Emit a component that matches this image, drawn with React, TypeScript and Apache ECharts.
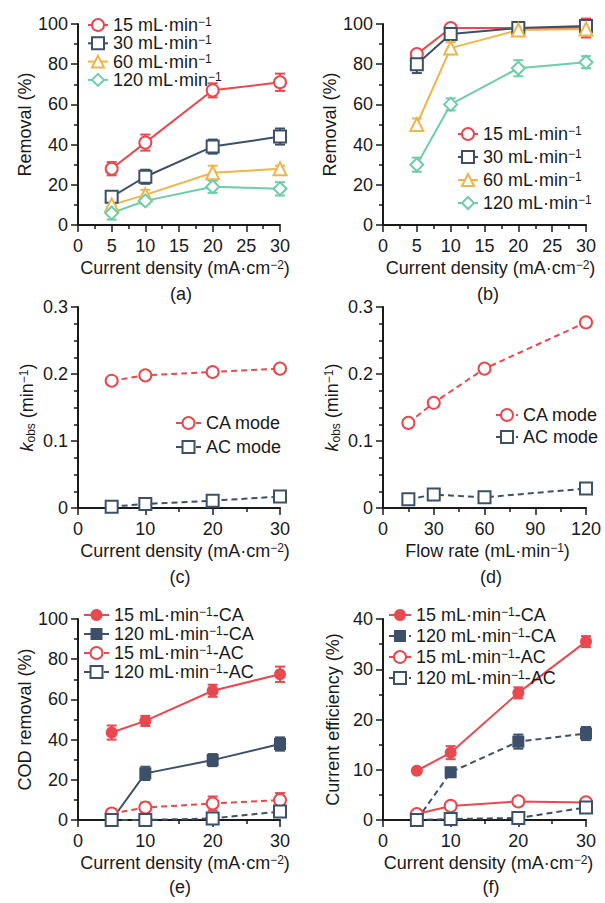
import React, { useEffect, useRef } from 'react';
import * as echarts from 'echarts';

// ---------- data ----------
const currentDensity = [5, 10, 20, 30];
const flowRates = [15, 30, 60, 120];

// (a) removal vs current density (first condition)
const aRem15 = [28, 41, 67, 71];
const aErr15 = [3.3, 4, 3.5, 4.3];
const aRem30 = [14, 24, 39, 44];
const aErr30 = [2.5, 3.5, 3.5, 4];
const aRem60 = [10, 15, 26, 28];
const aErr60 = [2, 2.5, 3.5, 1.5];
const aRem120 = [6, 12, 19, 18];
const aErr120 = [3.3, 1.5, 3, 3.3];

// (b) removal vs current density (second condition)
const bRem15 = [85, 98, 98, 98];
const bErr15 = [1.5, 1.5, 1, 4.7];
const bRem30 = [80, 95, 98, 99];
const bErr30 = [4.4, 3, 1.5, 1.5];
const bRem60 = [50, 88, 97, 97.5];
const bErr60 = [3, 3, 2.5, 3];
const bRem120 = [30, 60, 78, 81];
const bErr120 = [3.5, 3, 4, 3];

// (c) kobs vs current density
const cKCA = [0.19, 0.198, 0.203, 0.208];
const cKAC = [0.002, 0.006, 0.011, 0.017];

// (d) kobs vs flow rate
const dKCA = [0.127, 0.157, 0.208, 0.277];
const dKAC = [0.013, 0.02, 0.016, 0.029];

// (e) COD removal
const e15CA = [43.5, 49.3, 64.3, 72.5];
const e15CAErr = [3.5, 2.5, 3, 3.8];
const e120CA = [0, 23.2, 29.8, 37.8];
const e120CAErr = [1, 3.3, 3, 3.3];
const e15AC = [3.2, 6.2, 8.2, 9.9];
const e15ACErr = [2.3, 2.5, 3.5, 3.5];
const e120AC = [0, 0, 0.8, 4.2];
const e120ACErr = [0, 0.8, 0.8, 1.5];

// (f) current efficiency
const f15CA = [9.8, 13.4, 25.3, 35.5];
const f15CAErr = [0.3, 1.3, 1.1, 1.1];
const f120CA = [0, 9.5, 15.6, 17.2];
const f120CAErr = [0, 0.4, 1.4, 1.3];
const f15AC = [1.2, 2.8, 3.7, 3.5];
const f15ACErr = [0.2, 0.3, 0.3, 0.3];
const f120AC = [0, 0.2, 0.4, 2.5];
const f120ACErr = [0, 0.2, 0.2, 0.3];

const panelLetters = ['(a)', '(b)', '(c)', '(d)', '(e)', '(f)'];

// ---------- styles ----------
const FONT = '"Liberation Sans", Arial, Helvetica, sans-serif';
const TXT = '#1a1a1a';
const RED = '#E8494F';
const NAVY = '#3C5069';
const YELLOW = '#EEB649';
const GREEN = '#6ECDA7';

const RICH: any = {
  sup: { fontSize: 12, lineHeight: 12, padding: [0, 0, 6, 0], fontFamily: FONT, color: TXT },
  sub: { fontSize: 12, lineHeight: 12, padding: [7, 0, 0, 0], fontFamily: FONT, color: TXT },
  i: { fontSize: 18, lineHeight: 18, fontStyle: 'italic', fontFamily: FONT, color: TXT },
};

const LABELS: Record<string, string> = {
  a15: '15 mL·min{sup|−1}',
  a30: '30 mL·min{sup|−1}',
  a60: '60 mL·min{sup|−1}',
  a120: '120 mL·min{sup|−1}',
  b15: '15 mL·min{sup|−1}',
  b30: '30 mL·min{sup|−1}',
  b60: '60 mL·min{sup|−1}',
  b120: '120 mL·min{sup|−1}',
  cCA: 'CA mode',
  cAC: 'AC mode',
  dCA: 'CA mode',
  dAC: 'AC mode',
  e15CA: '15 mL·min{sup|−1}-CA',
  e120CA: '120 mL·min{sup|−1}-CA',
  e15AC: '15 mL·min{sup|−1}-AC',
  e120AC: '120 mL·min{sup|−1}-AC',
  f15CA: '15 mL·min{sup|−1}-CA',
  f120CA: '120 mL·min{sup|−1}-CA',
  f15AC: '15 mL·min{sup|−1}-AC',
  f120AC: '120 mL·min{sup|−1}-AC',
};

const grids = [
  { left: 78, top: 24, width: 202, height: 201 },
  { left: 383, top: 24, width: 203, height: 201 },
  { left: 78, top: 307, width: 202, height: 201 },
  { left: 383, top: 307, width: 203, height: 201 },
  { left: 78, top: 619, width: 202, height: 201 },
  { left: 383, top: 619, width: 203, height: 201 },
];

function axisBase() {
  return {
    type: 'value',
    axisLine: { show: true, onZero: false, lineStyle: { color: TXT, width: 2 } },
    axisTick: { show: true, length: 7, lineStyle: { color: TXT, width: 1.5 } },
    minorTick: { show: true, splitNumber: 2, length: 4, lineStyle: { color: TXT, width: 1.5 } },
    splitLine: { show: false },
    minorSplitLine: { show: false },
    axisLabel: { color: TXT, fontSize: 18, fontFamily: FONT, margin: 10 },
    nameLocation: 'middle',
    nameTextStyle: { color: TXT, fontSize: 18, lineHeight: 18, fontFamily: FONT, rich: RICH },
  };
}

function xAxis(grid: number, max: number, interval: number, name: string, shift: number) {
  const b: any = axisBase();
  return {
    ...b,
    gridIndex: grid,
    min: 0,
    max,
    interval,
    name,
    nameGap: 34,
    nameTextStyle: { ...b.nameTextStyle, padding: [0, 0, 0, shift] },
    axisLabel: { ...b.axisLabel, margin: 12 },
  };
}

function yAxis(grid: number, max: number, interval: number, name: string, minorSplit: number, gap: number) {
  const b: any = axisBase();
  return {
    ...b,
    gridIndex: grid,
    min: 0,
    max,
    interval,
    name,
    nameGap: gap,
    minorTick: { ...b.minorTick, splitNumber: minorSplit },
  };
}

function line(id: string, grid: number, xs: number[], ys: number[], color: string, symbol: string, dashed: boolean, size = 12) {
  const empty = symbol.indexOf('empty') === 0;
  return {
    type: 'line',
    name: id,
    xAxisIndex: grid,
    yAxisIndex: grid,
    data: xs.map((x, i) => [x, ys[i]]),
    symbol,
    symbolSize: size,
    showSymbol: true,
    z: 3,
    lineStyle: { color, width: 2, type: dashed ? [6, 4] : 'solid' },
    itemStyle: empty ? { color, borderColor: color, borderWidth: 2 } : { color, borderWidth: 0 },
    emphasis: { disabled: true },
  };
}

function errBars(grid: number, xs: number[], ys: number[], es: number[], color: string) {
  return {
    type: 'custom',
    xAxisIndex: grid,
    yAxisIndex: grid,
    z: 1,
    silent: true,
    data: xs.map((x, i) => [x, ys[i] - es[i], ys[i] + es[i]]),
    encode: { x: 0, y: [1, 2] },
    renderItem: (params: any, api: any) => {
      const x = api.value(0);
      const top = api.coord([x, api.value(2)]);
      const bot = api.coord([x, api.value(1)]);
      const w = 5;
      const style = { stroke: color, lineWidth: 2, fill: 'none' };
      return {
        type: 'group',
        children: [
          { type: 'line', shape: { x1: top[0], y1: top[1], x2: bot[0], y2: bot[1] }, style },
          { type: 'line', shape: { x1: top[0] - w, y1: top[1], x2: top[0] + w, y2: top[1] }, style },
          { type: 'line', shape: { x1: bot[0] - w, y1: bot[1], x2: bot[0] + w, y2: bot[1] }, style },
        ],
      };
    },
  };
}

function legend(ids: string[], left: number, top: number, gap: number, itemWidth: number) {
  return {
    data: ids,
    left,
    top,
    orient: 'vertical',
    padding: 0,
    itemGap: gap,
    itemWidth,
    itemHeight: 15,
    selectedMode: false,
    formatter: (n: string) => LABELS[n],
    textStyle: { color: TXT, fontSize: 18, lineHeight: 18, fontFamily: FONT, rich: RICH },
  };
}

const XCD = 'Current density (mA·cm{sup|−2})';
const KOBS = '{i|k}{sub|obs} (min{sup|−1})';

function buildOption(): any {
  const series: any[] = [
    // (a)
    errBars(0, currentDensity, aRem15, aErr15, RED),
    errBars(0, currentDensity, aRem30, aErr30, NAVY),
    errBars(0, currentDensity, aRem60, aErr60, YELLOW),
    errBars(0, currentDensity, aRem120, aErr120, GREEN),
    line('a15', 0, currentDensity, aRem15, RED, 'emptyCircle', false),
    line('a30', 0, currentDensity, aRem30, NAVY, 'emptyRect', false),
    line('a60', 0, currentDensity, aRem60, YELLOW, 'emptyTriangle', false, 13),
    line('a120', 0, currentDensity, aRem120, GREEN, 'emptyDiamond', false, 13),
    // (b)
    errBars(1, currentDensity, bRem15, bErr15, RED),
    errBars(1, currentDensity, bRem30, bErr30, NAVY),
    errBars(1, currentDensity, bRem60, bErr60, YELLOW),
    errBars(1, currentDensity, bRem120, bErr120, GREEN),
    line('b15', 1, currentDensity, bRem15, RED, 'emptyCircle', false),
    line('b30', 1, currentDensity, bRem30, NAVY, 'emptyRect', false),
    line('b60', 1, currentDensity, bRem60, YELLOW, 'emptyTriangle', false, 13),
    line('b120', 1, currentDensity, bRem120, GREEN, 'emptyDiamond', false, 13),
    // (c)
    line('cCA', 2, currentDensity, cKCA, RED, 'emptyCircle', true),
    line('cAC', 2, currentDensity, cKAC, NAVY, 'emptyRect', true),
    // (d)
    line('dCA', 3, flowRates, dKCA, RED, 'emptyCircle', true),
    line('dAC', 3, flowRates, dKAC, NAVY, 'emptyRect', true),
    // (e)
    errBars(4, currentDensity, e15CA, e15CAErr, RED),
    errBars(4, currentDensity, e120CA, e120CAErr, NAVY),
    errBars(4, currentDensity, e15AC, e15ACErr, RED),
    errBars(4, currentDensity, e120AC, e120ACErr, NAVY),
    line('e15CA', 4, currentDensity, e15CA, RED, 'circle', false),
    line('e120CA', 4, currentDensity, e120CA, NAVY, 'rect', false),
    line('e15AC', 4, currentDensity, e15AC, RED, 'emptyCircle', true),
    line('e120AC', 4, currentDensity, e120AC, NAVY, 'emptyRect', true),
    // (f)
    errBars(5, currentDensity, f15CA, f15CAErr, RED),
    errBars(5, currentDensity, f120CA, f120CAErr, NAVY),
    errBars(5, currentDensity, f15AC, f15ACErr, RED),
    errBars(5, currentDensity, f120AC, f120ACErr, NAVY),
    line('f15CA', 5, currentDensity, f15CA, RED, 'circle', false),
    line('f120CA', 5, currentDensity, f120CA, NAVY, 'rect', true),
    line('f15AC', 5, currentDensity, f15AC, RED, 'emptyCircle', false),
    line('f120AC', 5, currentDensity, f120AC, NAVY, 'emptyRect', true),
  ];

  const letterPos = [
    [181, 294], [488, 294],
    [180, 577], [491, 577],
    [180, 887], [491, 887],
  ];

  return {
    animation: false,
    backgroundColor: '#ffffff',
    grid: grids,
    xAxis: [
      xAxis(0, 30, 5, XCD, 12),
      xAxis(1, 30, 5, XCD, 12),
      xAxis(2, 30, 10, XCD, 12),
      xAxis(3, 120, 30, 'Flow rate (mL·min{sup|−1})', 6),
      xAxis(4, 30, 10, XCD, 12),
      xAxis(5, 30, 10, XCD, 8),
    ],
    yAxis: [
      yAxis(0, 100, 20, 'Removal (%)', 2, 40),
      yAxis(1, 100, 20, 'Removal (%)', 2, 40),
      yAxis(2, 0.3, 0.1, KOBS, 4, 42),
      yAxis(3, 0.3, 0.1, KOBS, 4, 42),
      yAxis(4, 100, 20, 'COD removal (%)', 2, 41),
      yAxis(5, 40, 10, 'Current efficiency (%)', 2, 41),
    ],
    legend: [
      legend(['a15', 'a30', 'a60', 'a120'], 87, 16, 0.3, 20),
      legend(['b15', 'b30', 'b60', 'b120'], 457, 125, 5, 20),
      legend(['cCA', 'cAC'], 175, 414, 6, 25),
      legend(['dCA', 'dAC'], 495, 406, 4, 22),
      legend(['e15CA', 'e120CA', 'e15AC', 'e120AC'], 83, 606, 1, 25),
      legend(['f15CA', 'f120CA', 'f15AC', 'f120AC'], 388, 606, 3, 22),
    ],
    graphic: panelLetters.map((t, i) => ({
      type: 'text',
      x: letterPos[i][0],
      y: letterPos[i][1],
      style: {
        text: t,
        fontSize: 18,
        fontFamily: FONT,
        fill: TXT,
        textAlign: 'center',
        textVerticalAlign: 'middle',
      },
    })),
    series,
  };
}

export default function App() {
  const ref = useRef<HTMLDivElement>(null);
  useEffect(() => {
    if (!ref.current) return;
    const chart = echarts.init(ref.current, undefined, { renderer: 'svg' });
    chart.setOption(buildOption());
    return () => chart.dispose();
  }, []);
  return (
    <div
      ref={ref}
      style={{ position: 'absolute', left: 0, top: 0, width: 605, height: 903, background: '#fff' }}
    />
  );
}
